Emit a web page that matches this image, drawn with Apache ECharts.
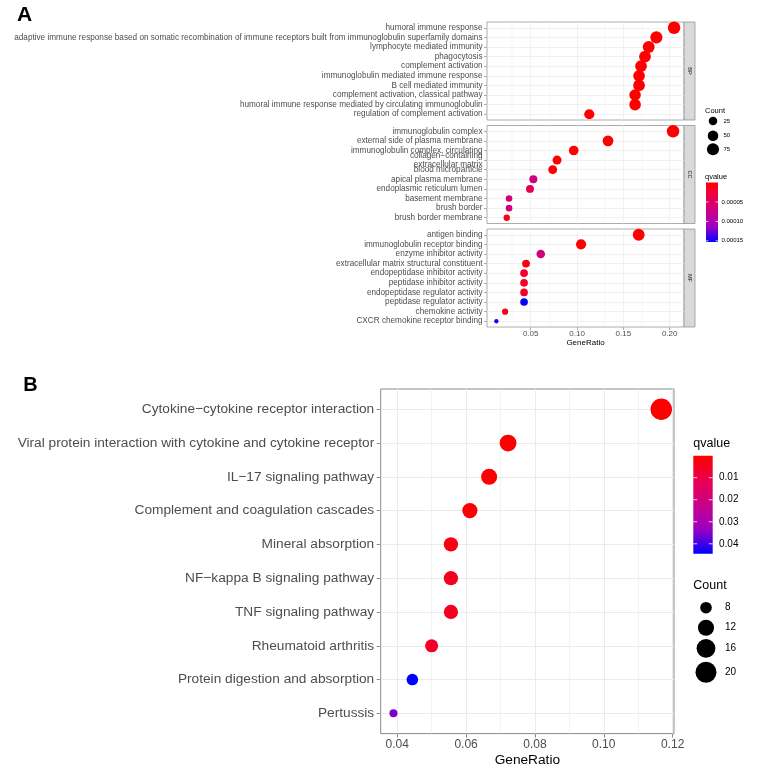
<!DOCTYPE html>
<html><head><meta charset="utf-8">
<script src="https://cdn.jsdelivr.net/npm/echarts@6/dist/echarts.min.js"></script>
<style>html,body{margin:0;padding:0;background:#fff}#c{width:757px;height:780px}</style>
</head><body><div id="c"></div>
<script>
const FONT = '"Liberation Sans", Arial, Helvetica, sans-serif';

// ---------- Panel A data ----------
const bpTerms = ["humoral immune response",
  "adaptive immune response based on somatic recombination of immune receptors built from immunoglobulin superfamily domains",
  "lymphocyte mediated immunity", "phagocytosis", "complement activation",
  "immunoglobulin mediated immune response", "B cell mediated immunity",
  "complement activation, classical pathway",
  "humoral immune response mediated by circulating immunoglobulin",
  "regulation of complement activation"];
const bpRatio = [0.2047, 0.1856, 0.1773, 0.1733, 0.1690, 0.1669, 0.1669, 0.1626, 0.1626, 0.1132];
const bpCount = [82, 74, 71, 69, 68, 67, 67, 65, 65, 45];
const bpQ = [1e-20, 1e-16, 1e-15, 1e-14, 1e-13, 1e-13, 1e-12, 1e-12, 1e-11, 1e-9];

const ccTerms = ["immunoglobulin complex", "external side of plasma membrane",
  "immunoglobulin complex, circulating", "collagen\u2212containing\nextracellular matrix",
  "blood microparticle", "apical plasma membrane", "endoplasmic reticulum lumen",
  "basement membrane", "brush border", "brush border membrane"];
const ccRatio = [0.2036, 0.1334, 0.0964, 0.0784, 0.0737, 0.0528, 0.0492, 0.0266, 0.0266, 0.0241];
const ccCount = [81, 53, 38, 31, 29, 21, 20, 11, 11, 10];
const ccQ = [1e-18, 1e-12, 1e-9, 2e-7, 4e-6, 0.000072, 0.000040, 0.000060, 0.000066, 0.000009];

const mfTerms = ["antigen binding", "immunoglobulin receptor binding", "enzyme inhibitor activity",
  "extracellular matrix structural constituent", "endopeptidase inhibitor activity",
  "peptidase inhibitor activity", "endopeptidase regulator activity",
  "peptidase regulator activity", "chemokine activity", "CXCR chemokine receptor binding"];
const mfRatio = [0.1665, 0.1043, 0.0608, 0.0449, 0.0428, 0.0428, 0.0428, 0.0428, 0.0223, 0.0129];
const mfCount = [70, 44, 26, 19, 18, 18, 18, 18, 9, 5];
const mfQ = [1e-16, 1e-12, 0.000068, 0.000010, 0.000021, 0.000021, 0.000022, 0.000153, 0.000015, 0.000149];

const ticksA = [0.05, 0.10, 0.15, 0.20];
const qTicksA = [0.00005, 0.00010, 0.00015];
const countLegendA = [25, 50, 75];
const stripsA = ["BP", "CC", "MF"];

// ---------- Panel B data ----------
const kTerms = ["Cytokine\u2212cytokine receptor interaction",
  "Viral protein interaction with cytokine and cytokine receptor",
  "IL\u221217 signaling pathway", "Complement and coagulation cascades",
  "Mineral absorption", "NF\u2212kappa B signaling pathway", "TNF signaling pathway",
  "Rheumatoid arthritis", "Protein digestion and absorption", "Pertussis"];
const kRatio = [0.1167, 0.0722, 0.0667, 0.0611, 0.0556, 0.0556, 0.0556, 0.0500, 0.0444, 0.0389];
const kCount = [21, 13, 12, 11, 10, 10, 10, 9, 8, 7];
const kQ = [1e-6, 0.0002, 0.0004, 0.0008, 0.0025, 0.0045, 0.0045, 0.0055, 0.0445, 0.0356];

const ticksB = [0.04, 0.06, 0.08, 0.10, 0.12];
const qTicksB = [0.01, 0.02, 0.03, 0.04];
const countLegendB = [8, 12, 16, 20];

// ---------- style / layout ----------
const qStops = ['#FF0000', '#E8004F', '#CA0089', '#9A00C3', '#0000FF'];
const BORDER = '#8a8a8a', GRIDC = '#EBEBEB', TXT = '#4D4D4D';

const allCountA = bpCount.concat(ccCount, mfCount);
const cMinA = Math.min(...allCountA), cMaxA = Math.max(...allCountA);
const cMinB = Math.min(...kCount), cMaxB = Math.max(...kCount);
const sizeA = c => 4.3 + 8.2 * Math.sqrt(Math.max(0, (c - cMinA) / (cMaxA - cMinA)));
const sizeB = c => 8 + 13.5 * Math.sqrt(Math.max(0, (c - cMinB) / (cMaxB - cMinB)));
const qMaxA = Math.max(...bpQ, ...ccQ, ...mfQ), qMaxB = Math.max(...kQ);

const LA = {left: 487, width: 197, height: 98, xMin: 0.0028, xMax: 0.2154, tops: [22, 125.5, 229]};
const LB = {left: 380.7, top: 389, width: 293.3, height: 344.6, xMin: 0.0352, xMax: 0.1204};

function minorsOf(ticks, min, max) {
  const step = ticks[1] - ticks[0], out = [];
  [ticks[0] - step].concat(ticks).forEach(t => { const m = t + step / 2; if (m > min && m < max) out.push(+m.toFixed(6)); });
  return out;
}

const grids = [], xAxes = [], yAxes = [], series = [];
function addPanel(gi, g, terms, ratio, count, q, xMin, xMax, ticks, opt) {
  grids.push(Object.assign({show: true, borderColor: BORDER, borderWidth: opt.bw, backgroundColor: 'transparent',
    containLabel: false, outerBoundsMode: 'none'}, g));
  const n = terms.length, idx = terms.map((t, i) => i + 1);
  xAxes.push({type: 'value', gridIndex: gi, min: xMin, max: xMax,
    axisLine: {show: false}, splitLine: {show: false},
    axisTick: {show: opt.showX, customValues: ticks, length: opt.tickLen, lineStyle: {color: BORDER, width: opt.bw}},
    axisLabel: {show: opt.showX, customValues: ticks, formatter: v => v.toFixed(2), fontSize: opt.xFs,
      color: TXT, fontFamily: FONT, margin: opt.xMargin},
    name: opt.showX ? 'GeneRatio' : '', nameLocation: 'middle', nameGap: opt.nameGap,
    nameTextStyle: {fontSize: opt.nameFs, color: '#000', fontFamily: FONT}});
  yAxes.push({type: 'value', gridIndex: gi, min: 0.4, max: n + 0.6, inverse: true,
    axisLine: {show: false}, splitLine: {show: false},
    axisTick: {show: true, customValues: idx, length: opt.tickLen, lineStyle: {color: BORDER, width: opt.bw}},
    axisLabel: {customValues: idx, formatter: v => terms[Math.round(v) - 1], fontSize: opt.yFs, color: TXT,
      fontFamily: FONT, margin: opt.yMargin, lineHeight: opt.yLh}});
  const lines = [];
  ticks.forEach(t => lines.push({xAxis: t, lineStyle: {width: opt.majW, color: GRIDC, type: 'solid'}}));
  minorsOf(ticks, xMin, xMax).forEach(t => lines.push({xAxis: t, lineStyle: {width: opt.minW, color: GRIDC, type: 'solid'}}));
  idx.forEach(i => lines.push({yAxis: i, lineStyle: {width: opt.majW, color: GRIDC, type: 'solid'}}));
  series.push({type: 'scatter', xAxisIndex: gi, yAxisIndex: gi, data: [], z: 1, zlevel: 0, silent: true,
    markLine: {silent: true, z: 1, zlevel: 0, symbol: ['none', 'none'], label: {show: false}, animation: false,
      emphasis: {disabled: true}, lineStyle: {type: 'solid'}, data: lines}});
  series.push({type: 'scatter', xAxisIndex: gi, yAxisIndex: gi, z: 3, zlevel: 1, silent: true,
    data: terms.map((t, i) => [ratio[i], i + 1, q[i], count[i]]),
    symbolSize: v => opt.size(v[3]), itemStyle: {opacity: 1}, emphasis: {disabled: true}});
}

const optA = {bw: 0.7, showX: false, tickLen: 3, xFs: 8, xMargin: 3, nameGap: 12, nameFs: 8,
  yFs: 8.2, yMargin: 4.5, yLh: 9.3, majW: 0.7, minW: 0.4, size: sizeA};
const panelData = [[bpTerms, bpRatio, bpCount, bpQ], [ccTerms, ccRatio, ccCount, ccQ], [mfTerms, mfRatio, mfCount, mfQ]];
panelData.forEach((p, k) => {
  addPanel(k, {left: LA.left, top: LA.tops[k], width: LA.width, height: LA.height},
    p[0], p[1], p[2], p[3], LA.xMin, LA.xMax, ticksA, Object.assign({}, optA, {showX: k === 2}));
});
addPanel(3, {left: LB.left, top: LB.top, width: LB.width, height: LB.height},
  kTerms, kRatio, kCount, kQ, LB.xMin, LB.xMax, ticksB,
  {bw: 1, showX: true, tickLen: 4, xFs: 12, xMargin: 5, nameGap: 20, nameFs: 13.7,
   yFs: 13.7, yMargin: 6.5, yLh: 15, majW: 1, minW: 0.6, size: sizeB});

// ---------- graphic: panel letters, strips, legends ----------
const G = [];
function txt(x, y, s, fs, o) {
  G.push(Object.assign({type: 'text', x: x, y: y, silent: true,
    style: Object.assign({text: s, font: fs + 'px ' + FONT, fill: '#000', textAlign: 'left', textVerticalAlign: 'middle'}, (o && o.style) || {})},
    (o && o.el) || {}));
}
txt(17, 15.5, 'A', 21, {style: {font: 'bold 21px ' + FONT}});
txt(23.3, 385, 'B', 20, {style: {font: 'bold 20px ' + FONT}});

stripsA.forEach((s, k) => {
  const x0 = LA.left + LA.width, y0 = LA.tops[k];
  G.push({type: 'rect', silent: true, shape: {x: x0, y: y0, width: 11, height: LA.height},
    style: {fill: '#D9D9D9', stroke: BORDER, lineWidth: 0.7}});
  G.push({type: 'text', silent: true, x: x0 + 5.5, y: y0 + LA.height / 2, rotation: -Math.PI / 2,
    style: {text: s, font: '5.5px ' + FONT, fill: '#1A1A1A', textAlign: 'center', textVerticalAlign: 'middle'}});
});

function colorbar(x, y, w, h, qMax, ticks, dec, lblX, fs) {
  G.push({type: 'rect', silent: true, shape: {x: x, y: y, width: w, height: h},
    style: {fill: {type: 'linear', x: 0, y: 0, x2: 0, y2: 1, colorStops: qStops.map((c, i) => ({offset: i / (qStops.length - 1), color: c}))}}});
  ticks.forEach(t => {
    const ty = y + t / qMax * h, tl = w / 5;
    G.push({type: 'line', silent: true, shape: {x1: x, y1: ty, x2: x + tl, y2: ty}, style: {stroke: '#fff', lineWidth: 0.8}});
    G.push({type: 'line', silent: true, shape: {x1: x + w - tl, y1: ty, x2: x + w, y2: ty}, style: {stroke: '#fff', lineWidth: 0.8}});
    txt(lblX, ty, t.toFixed(dec), fs, {style: {fill: '#000'}});
  });
}
function sizeLegend(cx, ys, vals, sizeFn, lblX, fs) {
  vals.forEach((v, i) => {
    G.push({type: 'circle', silent: true, shape: {cx: cx, cy: ys[i], r: sizeFn(v) / 2}, style: {fill: '#000'}});
    txt(lblX, ys[i], String(v), fs);
  });
}
// Legend A
txt(705, 110.7, 'Count', 7.5);
sizeLegend(713, [121, 135.7, 149.3], countLegendA, sizeA, 723.5, 6);
txt(705, 176.7, 'qvalue', 7.5);
colorbar(706, 182.5, 12, 59.5, qMaxA, qTicksA, 5, 721.5, 6);
// Legend B
txt(693.3, 444, 'qvalue', 12.5);
colorbar(693.3, 455.7, 19.4, 98, qMaxB, qTicksB, 2, 719, 10);
txt(693.3, 585.7, 'Count', 12.5);
sizeLegend(706, [607.7, 627.7, 648.3, 672.3], countLegendB, sizeB, 725, 10);

const chart = echarts.init(document.getElementById('c'), null, {renderer: 'canvas'});
chart.setOption({
  animation: false,
  backgroundColor: '#fff',
  grid: grids, xAxis: xAxes, yAxis: yAxes, series: series,
  visualMap: [
    {type: 'continuous', show: false, seriesIndex: [1, 3, 5], dimension: 2, min: 0, max: qMaxA, inRange: {color: qStops}},
    {type: 'continuous', show: false, seriesIndex: [7], dimension: 2, min: 0, max: qMaxB, inRange: {color: qStops}}
  ],
  graphic: G
});
</script></body></html>
